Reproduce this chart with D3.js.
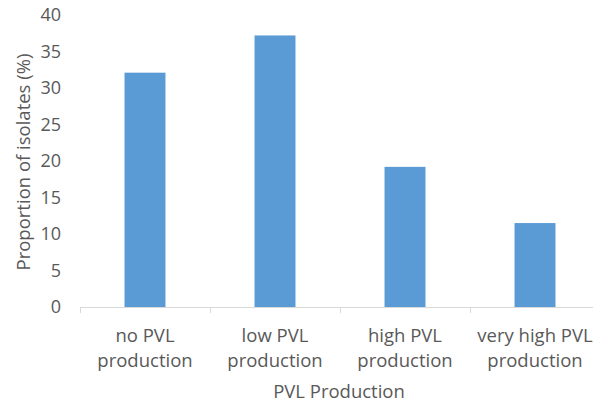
<!DOCTYPE html>
<html>
<head>
<meta charset="utf-8">
<script src="https://cdn.jsdelivr.net/npm/d3@7"></script>
<style>
  body { margin: 0; background: #fff; }
  text { font-family: "Open Sans", sans-serif; fill: #595959; }
</style>
</head>
<body>
<div id="chart-area"></div>
<script>
var categories = [["no PVL", "production"], ["low PVL", "production"], ["high PVL", "production"], ["very high PVL", "production"]];
var values = [32.1, 37.2, 19.2, 11.5];
var yTicks = [0, 5, 10, 15, 20, 25, 30, 35, 40];

var width = 593;
var height = 402;

var svg = d3.select("#chart-area")
    .append("svg")
        .attr("width", width)
        .attr("height", height);

var x = d3.scaleBand().domain(d3.range(values.length)).range([80, 600]).padding(0);
var y = d3.scaleLinear().domain([0, 40]).range([307, 15]);

var barW = x.bandwidth() * 0.315;

// y tick labels
svg.append("g")
    .selectAll("text")
    .data(yTicks)
    .enter().append("text")
        .attr("x", 61)
        .attr("y", (d) => y(d))
        .attr("dy", "0.35em")
        .attr("text-anchor", "end")
        .attr("font-size", "18px")
        .text((d) => d);

// bars
svg.append("g")
    .selectAll("rect")
    .data(values)
    .enter().append("rect")
        .attr("x", (d, i) => x(i) + x.bandwidth() / 2 - barW / 2)
        .attr("y", (d) => y(d))
        .attr("width", barW)
        .attr("height", (d) => y(0) - y(d))
        .attr("fill", "#5B9BD5");

// x axis line and ticks
svg.append("line")
    .attr("x1", 80).attr("x2", 600)
    .attr("y1", y(0) + 0.5).attr("y2", y(0) + 0.5)
    .attr("stroke", "#D9D9D9");

svg.append("g")
    .selectAll("line")
    .data(d3.range(values.length + 1))
    .enter().append("line")
        .attr("x1", (d) => Math.round(80 + d * x.bandwidth()) + 0.5)
        .attr("x2", (d) => Math.round(80 + d * x.bandwidth()) + 0.5)
        .attr("y1", y(0))
        .attr("y2", y(0) + 6)
        .attr("stroke", "#D9D9D9");

// category labels
var cat = svg.append("g")
    .selectAll("text")
    .data(categories)
    .enter().append("text")
        .attr("text-anchor", "middle")
        .attr("font-size", "18.5px");

cat.each(function(d, i) {
    var t = d3.select(this);
    d.forEach((line, j) => {
        t.append("tspan")
            .attr("x", x(i) + x.bandwidth() / 2)
            .attr("y", 342 + j * 25)
            .text(line);
    });
});

// axis titles
svg.append("text")
    .attr("x", 339)
    .attr("y", 398)
    .attr("text-anchor", "middle")
    .attr("font-size", "18.5px")
    .text("PVL Production");

svg.append("text")
    .attr("transform", "translate(30, 162) rotate(-90)")
    .attr("text-anchor", "middle")
    .attr("font-size", "18.5px")
    .text("Proportion of isolates (%)");
</script>
</body>
</html>
